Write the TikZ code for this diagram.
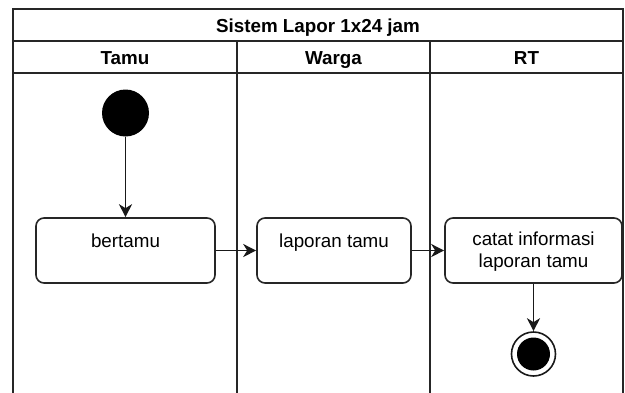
\documentclass[tikz,border=0pt]{standalone}
\usepackage{fontspec}
\setmainfont{Liberation Sans}
\usetikzlibrary{arrows.meta}
\begin{document}
\begin{tikzpicture}[x=1pt,y=-1pt,
  lane/.style={draw=black!85, line width=1.4pt},
  act/.style={draw=black!85, rounded corners=8pt, line width=1.6pt, fill=white, inner sep=0pt},
  flow/.style={draw=black!90, line width=1.6pt, -{Stealth[length=13pt,width=13pt,inset=4pt]}},
  txt/.style={font=\fontsize{18.8}{22}\selectfont, inner sep=0pt, align=center},
  head/.style={font=\bfseries\fontsize{18.8}{21}\selectfont, inner sep=0pt, anchor=base}]
\useasboundingbox (0,0) rectangle (625,392);
% swimlane frame
\begin{scope}
  \clip (0,0) rectangle (625,392);
  \draw[lane] (13,400) -- (13,9) -- (623,9) -- (623,400);
  \draw[lane] (13,41) -- (623,41);
  \draw[lane] (13,73) -- (623,73);
  \draw[lane] (237,41) -- (237,400);
  \draw[lane] (430,41) -- (430,400);
\end{scope}
% headers
\node[head] (title) at (318,32) {Sistem Lapor 1x24 jam};
\node[head] (tamu) at (125,64.5) {Tamu};
\node[head] (warga) at (333.5,64.5) {Warga};
\node[head] (rt) at (526.5,64.5) {RT};
% activities
\node[act, minimum width=179pt, minimum height=65pt] (bertamu) at (125.5,250.5) {};
\node[txt, anchor=base] (tbertamu) at (125.5,247.5) {bertamu};
\node[act, minimum width=154pt, minimum height=65pt] (laporan) at (334,250.5) {};
\node[txt, anchor=base] (tlaporan) at (334,247.5) {laporan tamu};
\node[act, minimum width=177pt, minimum height=65pt] (catat) at (533.5,250.5) {};
\node[txt] (tcatat) at (533.5,252) {catat informasi\\laporan tamu};
% start and end states
\node[circle, fill=black, minimum size=47pt, inner sep=0pt] (start) at (125.5,113) {};
\node[circle, draw=black!90, line width=1.6pt, fill=white, minimum size=44pt, inner sep=0pt] (end) at (533.5,354) {};
\node[circle, fill=black, minimum size=33pt, inner sep=0pt] (endcore) at (end.center) {};
% flows
\draw[flow] (start) -- (bertamu);
\draw[flow] (bertamu) -- (laporan);
\draw[flow] (laporan) -- (catat);
\draw[flow] (catat) -- (end);
\end{tikzpicture}
\end{document}
